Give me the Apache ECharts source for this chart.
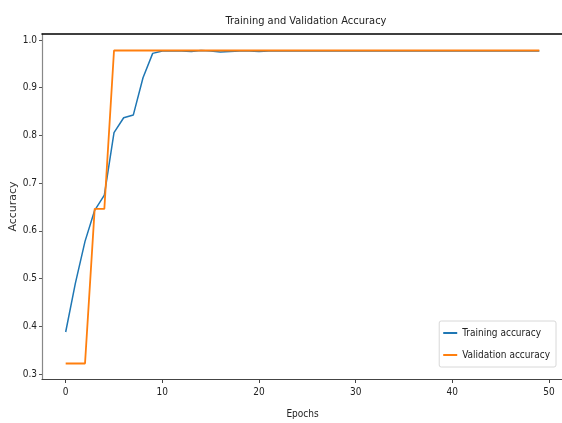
<!DOCTYPE html>
<html>
<head>
<meta charset="utf-8">
<script src="https://cdn.jsdelivr.net/npm/echarts@6/dist/echarts.min.js"></script>
<style>
  html, body { margin: 0; padding: 0; background: #fff; }
  #chart { width: 562px; height: 423px; }
</style>
</head>
<body>
<div id="chart"></div>
<script>
// Per-epoch accuracy history
const epochs = Array.from({ length: 50 }, (_, i) => i);
const trainingAccuracy = [
  0.388, 0.490, 0.578, 0.643, 0.675, 0.806, 0.837, 0.843, 0.921, 0.972,
  0.977, 0.977, 0.977, 0.976, 0.978, 0.977, 0.975, 0.976, 0.977, 0.977,
  0.976, 0.977, 0.977, 0.977, 0.977, 0.977, 0.977, 0.977, 0.977, 0.977,
  0.977, 0.977, 0.977, 0.977, 0.977, 0.977, 0.977, 0.977, 0.977, 0.977,
  0.977, 0.977, 0.977, 0.977, 0.977, 0.977, 0.977, 0.977, 0.977, 0.977
];
const validationAccuracy = [
  0.322, 0.322, 0.322, 0.646, 0.646, 0.978, 0.978, 0.978, 0.978, 0.978,
  0.978, 0.978, 0.978, 0.978, 0.978, 0.978, 0.978, 0.978, 0.978, 0.978,
  0.978, 0.978, 0.978, 0.978, 0.978, 0.978, 0.978, 0.978, 0.978, 0.978,
  0.978, 0.978, 0.978, 0.978, 0.978, 0.978, 0.978, 0.978, 0.978, 0.978,
  0.978, 0.978, 0.978, 0.978, 0.978, 0.978, 0.978, 0.978, 0.978, 0.978
];
const xTicks = [0, 10, 20, 30, 40, 50];
const yTicks = [0.3, 0.4, 0.5, 0.6, 0.7, 0.8, 0.9, 1.0];

const narrow = "'Liberation Sans Narrow', 'DejaVu Sans Condensed', sans-serif";
const chart = echarts.init(document.getElementById('chart'), null, { renderer: 'canvas' });

chart.setOption({
  animation: false,
  backgroundColor: '#fff',
  title: {
    text: 'Training and Validation Accuracy',
    left: 301, top: 11, textAlign: 'center',
    textStyle: { fontFamily: narrow, fontSize: 11, fontWeight: 'normal', color: '#222' }
  },
  grid: { left: 42, top: 34, right: -1, bottom: 44, outerBoundsMode: 'none', containLabel: false },
  legend: {
    orient: 'vertical',
    right: 6, top: 321,
    padding: [7, 6, 7, 4],
    itemGap: 12,
    itemWidth: 14, itemHeight: 2,
    backgroundColor: '#fff',
    borderColor: '#d8d8d8', borderWidth: 1, borderRadius: 2,
    icon: 'rect',
    textStyle: { fontFamily: narrow, fontSize: 10, color: '#222' },
    data: ['Training accuracy', 'Validation accuracy']
  },
  xAxis: [{
    type: 'value',
    min: -2.45, max: 51.45,
    name: 'Epochs', nameLocation: 'middle', nameGap: 30,
    nameTextStyle: { fontFamily: narrow, fontSize: 10, color: '#222' },
    axisLine: { show: true, onZero: false, lineStyle: { color: '#444', width: 1.2 } },
    axisTick: { show: true, length: 4, customValues: xTicks, lineStyle: { color: '#444' } },
    axisLabel: { customValues: xTicks, margin: 8, fontFamily: narrow, fontSize: 10, color: '#222' },
    splitLine: { show: false }
  }, {
    type: 'value', position: 'top',
    min: -2.45, max: 51.45,
    axisLine: { show: true, onZero: false, lineStyle: { color: '#000', width: 1.5 } },
    axisTick: { show: false }, axisLabel: { show: false }, splitLine: { show: false }
  }],
  yAxis: {
    type: 'value',
    min: 0.2895, max: 1.0126,
    name: 'Accuracy', nameLocation: 'middle', nameGap: 23, nameRotate: 90,
    nameMoveOverlap: false,
    nameTextStyle: { fontFamily: 'DejaVu Sans', fontSize: 11, color: '#333' },
    axisLine: { show: true, onZero: false, lineStyle: { color: '#888', width: 1.2 } },
    axisTick: { show: true, length: 3, customValues: yTicks, lineStyle: { color: '#555' } },
    axisLabel: {
      customValues: yTicks, margin: 5, fontFamily: narrow, fontSize: 10, color: '#222',
      formatter: v => v.toFixed(1)
    },
    splitLine: { show: false }
  },
  series: [{
    name: 'Training accuracy',
    type: 'line',
    data: epochs.map((e, i) => [e, trainingAccuracy[i]]),
    showSymbol: false,
    color: '#1f77b4',
    lineStyle: { width: 1.5, color: '#1f77b4' }
  }, {
    name: 'Validation accuracy',
    type: 'line',
    data: epochs.map((e, i) => [e, validationAccuracy[i]]),
    showSymbol: false,
    color: '#ff7f0e',
    lineStyle: { width: 1.8, color: '#ff7f0e' }
  }]
});
</script>
</body>
</html>
